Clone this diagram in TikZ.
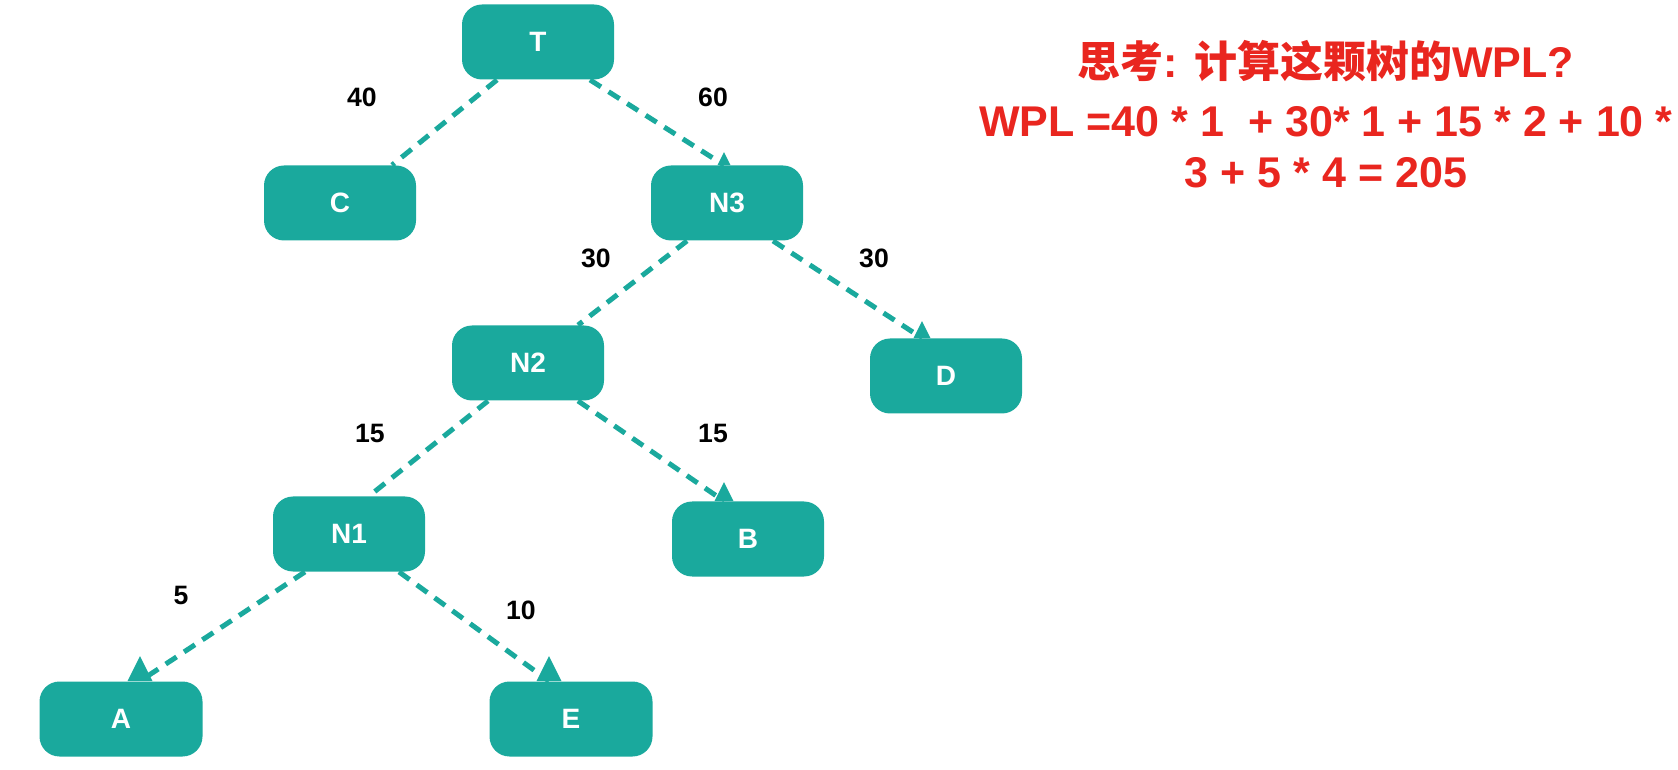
\documentclass[tikz,border=0pt]{standalone}
\usepackage{fontspec}
\setmainfont{Liberation Sans}
\newfontfamily\cjkfont{Noto Sans CJK SC}
\usetikzlibrary{calc}
\definecolor{treeteal}{RGB}{26,169,157}
\definecolor{notered}{RGB}{233,38,31}
\tikzset{
  treenode/.style={fill=treeteal, rounded corners=10pt, minimum width=76pt, minimum height=37.5pt, inner sep=0pt, text=white, font=\fontsize{14}{16}\selectfont\bfseries},
  leafwide/.style={treenode, minimum width=81.5pt},
  dashlink/.style={treeteal, line width=2.5pt, dash pattern=on 6.5pt off 4.5pt},
  wlabel/.style={font=\fontsize{13.3}{15}\selectfont\bfseries, inner sep=0pt},
  noteline/.style={text=notered, font=\fontsize{21.5}{25}\selectfont\bfseries, anchor=base, inner sep=0pt}
}
\newcommand{\uptip}[2][16]{\fill[treeteal] ($(#2)+(-0.5*#1,0)$) -- ($(#2)+(0,-#1)$) -- ($(#2)+(0.5*#1,0)$) -- cycle;}

\begin{document}
\begin{tikzpicture}[x=0.5pt, y=-0.5pt]
  \useasboundingbox (0,0) rectangle (1678,770);
  % tree nodes
  \node[treenode] (T) at (538,42) {T};
  \node[treenode] (C) at (340,203) {C};
  \node[treenode] (N3) at (727,203) {N3};
  \node[treenode] (N2) at (528,363) {N2};
  \node[treenode] (D) at (946,376) {D};
  \node[treenode] (N1) at (349,534) {N1};
  \node[treenode] (B) at (748,539) {B};
  \node[leafwide] (A) at (121,719) {A};
  \node[leafwide] (E) at (571,719) {E};
  % links
  \draw[dashlink] ($(T.south)+(-41,0)$) -- ($(C.north)+(52,0)$);
  \draw[dashlink] ($(T.south)+(52,0)$) -- ($(N3.north)+(-3,0)$) coordinate (tN3);
  \uptip[13]{tN3}
  \draw[dashlink] ($(N3.south)+(-40,0)$) -- ($(N2.north)+(50,0)$);
  \draw[dashlink] ($(N3.south)+(46,0)$) -- ($(D.north)+(-24,0)$) coordinate (tD);
  \uptip[17]{tD}
  \draw[dashlink] ($(N2.south)+(-40,0)$) -- ($(N1.north)+(20,0)$);
  \draw[dashlink] ($(N2.south)+(50,0)$) -- ($(B.north)+(-24,0)$) coordinate (tB);
  \uptip[19]{tB}
  \draw[dashlink] ($(N1.south)+(-44,0)$) -- ($(A.north)+(19,0)$) coordinate (tA);
  \uptip[25]{tA}
  \draw[dashlink] ($(N1.south)+(50,0)$) -- ($(E.north)+(-22,0)$) coordinate (tE);
  \uptip[25]{tE}
  % weights
  \node[wlabel] (wC) at (362,97) {40};
  \node[wlabel] (wN3) at (713,97) {60};
  \node[wlabel] (wN2) at (596,258) {30};
  \node[wlabel] (wD) at (874,258) {30};
  \node[wlabel] (wN1) at (370,433) {15};
  \node[wlabel] (wB) at (713,433) {15};
  \node[wlabel] (wA) at (181,595) {5};
  \node[wlabel] (wE) at (521,610) {10};
  % question and answer
  \node[noteline] (ask) at (1326,78) {{\cjkfont 思考}: {\cjkfont 计算这颗树的}WPL?};
  \node[noteline] (sum1) at (1326,137) {WPL =40 * 1\ \ + 30* 1 + 15 * 2 + 10 *};
  \node[noteline] (sum2) at (1326,188) {3 + 5 * 4 = 205};
\end{tikzpicture}
\end{document}
